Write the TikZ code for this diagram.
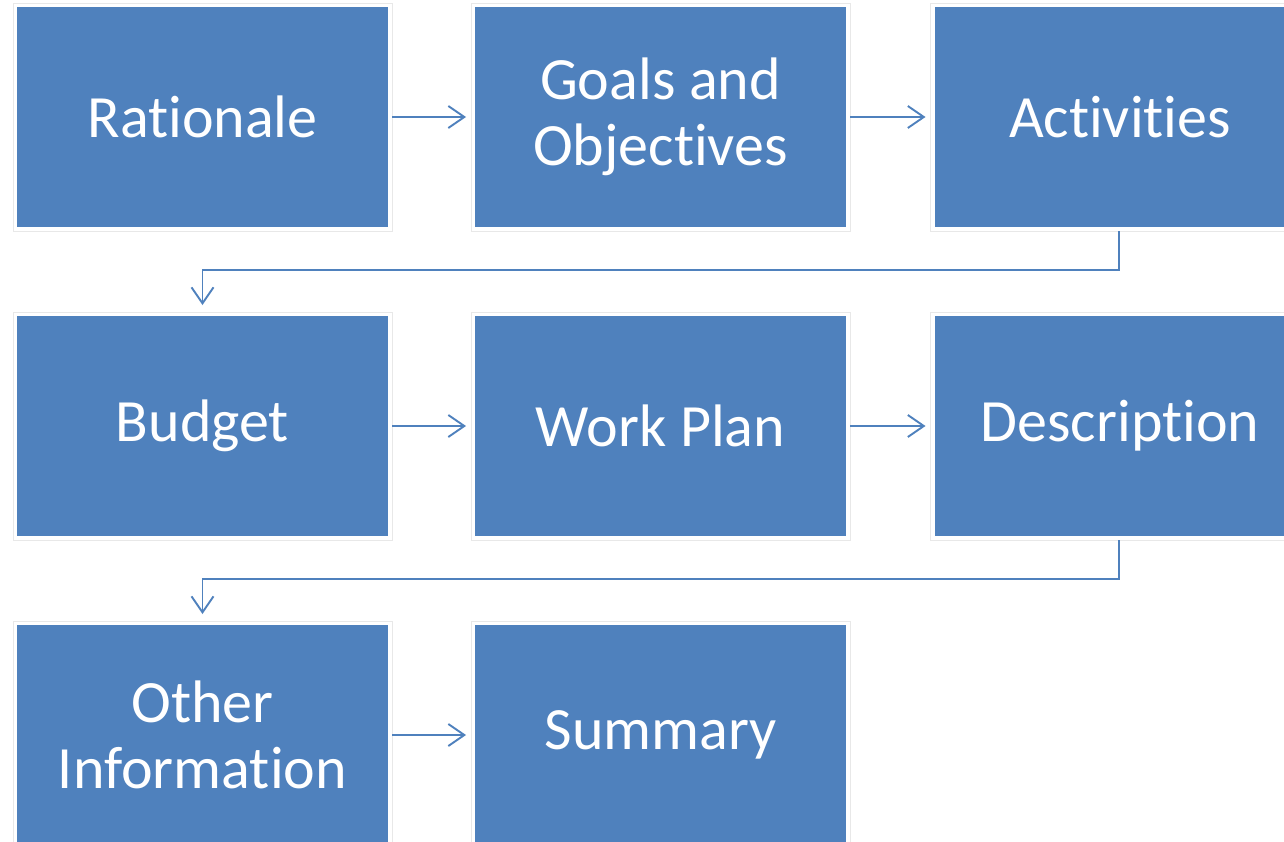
\documentclass[tikz,border=0pt]{standalone}
\usepackage{fontspec}
\setmainfont{Carlito}[Ligatures={NoCommon,NoRequired,NoContextual},RawFeature={-liga;-dlig;-clig}]
\usetikzlibrary{arrows.meta}
\definecolor{boxblue}{HTML}{4F81BD}
\newcommand\tinolig{t\kern0pt i}
\tikzset{
  stepbox/.style={fill=boxblue, draw=none, minimum width=371pt, minimum height=220pt,
    inner sep=0pt, outer sep=0pt, text=white, align=center,
    font=\fontsize{60}{66}\selectfont},
  halo/.style={draw=gray!18, line width=0.8pt},
  link/.style={draw=boxblue, line width=1.9pt,
    -{Straight Barb[length=16pt,width=22pt,line width=1.9pt]}},
}
\begin{document}
\begin{tikzpicture}[x=1pt,y=-1pt]
\useasboundingbox (0,0) rectangle (1284,841);
\fill[white] (0,0) rectangle (1284,841);
\node[stepbox] (rat) at (202.5,117) {Rationale};
\node[stepbox] (goal) at (660.5,117) {Goals and\\Objectives};
\node[stepbox] (act) at (1120,117) {Activi\tinolig es};
\node[stepbox] (bud) at (202.5,426) {Budget};
\node[stepbox] (work) at (660.5,426) {Work Plan};
\node[stepbox] (desc) at (1120,426) {Descrip\tinolig on};
\node[stepbox] (oth) at (202.5,735) {Other\\Informa\tinolig on};
\node[stepbox] (sum) at (660.5,735) {Summary};
\foreach \n in {rat,goal,act,bud,work,desc,oth,sum}{
  \draw[halo] ([shift={(-4pt,-4pt)}]\n.south west) rectangle ([shift={(4pt,4pt)}]\n.north east);
}
\draw[link, shorten <=4pt, shorten >=9pt] (rat) -- (goal);
\draw[link, shorten <=4pt, shorten >=9pt] (goal) -- (act);
\draw[link, shorten <=4pt, shorten >=9pt] (bud) -- (work);
\draw[link, shorten <=4pt, shorten >=9pt] (work) -- (desc);
\draw[link, shorten <=4pt, shorten >=9pt] (oth) -- (sum);
\coordinate (e1) at (1119,270);
\coordinate (e2) at (202.5,270);
\draw[link, shorten <=4pt, shorten >=11pt] ([xshift=-1pt]act.south) -- (e1) -- (e2) -- (bud.north);
\coordinate (f1) at (1119,579);
\coordinate (f2) at (202.5,579);
\draw[link, shorten <=4pt, shorten >=11pt] ([xshift=-1pt]desc.south) -- (f1) -- (f2) -- (oth.north);
\end{tikzpicture}
\end{document}
